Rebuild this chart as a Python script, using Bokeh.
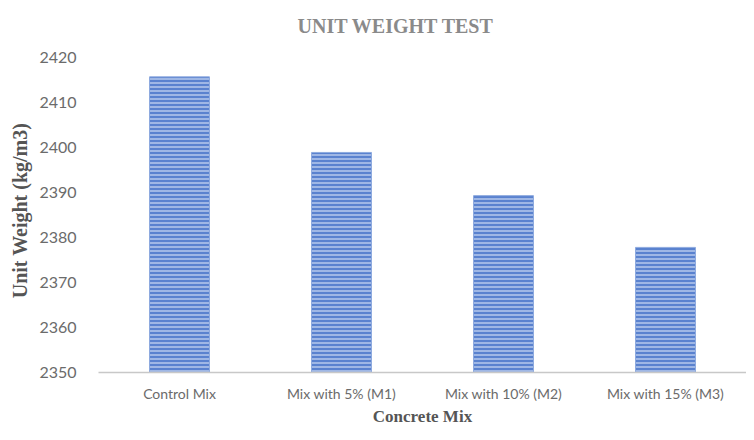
from bokeh.plotting import figure
from bokeh.models import FactorRange, Range1d, ColumnDataSource, Title
from bokeh.embed import file_html
from bokeh.resources import INLINE

categories = ["Control Mix", "Mix with 5% (M1)", "Mix with 10% (M2)", "Mix with 15% (M3)"]
unit_weight = [2415.7, 2398.9, 2389.3, 2377.8]
y_ticks = [2350, 2360, 2370, 2380, 2390, 2400, 2410, 2420]

source = ColumnDataSource(dict(cat=categories, val=unit_weight))

p = figure(
    width=746, height=438,
    x_range=FactorRange(factors=categories, start=0.0, end=3.88, range_padding=0),
    y_range=Range1d(2350, 2422),
    output_backend="svg", toolbar_location=None,
    min_border_left=98, min_border_right=0, min_border_top=48, min_border_bottom=66,
    title=None,
)

p.vbar(x="cat", top="val", bottom=2350, width=0.37, source=source,
       fill_color="#5a82cf", line_color="#8eaadf", line_width=1,
       hatch_pattern="horizontal_line", hatch_color="#b5c9ec",
       hatch_scale=4, hatch_weight=1.5)

t = Title(text="UNIT WEIGHT TEST", align="left", offset=199,
          text_font="Liberation Serif", text_font_size="20px",
          text_font_style="bold", text_color="#8a8a8a", standoff=20,
          vertical_align="top")
p.add_layout(t, "above")

p.outline_line_color = None
p.xgrid.grid_line_color = None
p.ygrid.grid_line_color = None

p.yaxis.ticker = y_ticks
p.yaxis.axis_line_color = None
p.yaxis.major_tick_line_color = None
p.yaxis.minor_tick_line_color = None
p.yaxis.major_label_text_font = "Lato"
p.yaxis.major_label_text_font_size = "16px"
p.yaxis.major_label_text_color = "#6b6b6b"
p.yaxis.major_label_standoff = 16
p.yaxis.axis_label = "Unit Weight (kg/m3)"
p.yaxis.axis_label_text_font = "Liberation Serif"
p.yaxis.axis_label_text_font_size = "20px"
p.yaxis.axis_label_text_font_style = "bold"
p.yaxis.axis_label_text_color = "#555555"
p.yaxis.axis_label_standoff = 5

p.xaxis.axis_line_color = "#c8c8c8"
p.xaxis.axis_line_width = 1.5
p.xaxis.major_tick_line_color = None
p.xaxis.minor_tick_line_color = None
p.xaxis.major_label_text_font = "Lato"
p.xaxis.major_label_text_font_size = "14px"
p.xaxis.major_label_text_color = "#6b6b6b"
p.xaxis.major_label_standoff = 6
p.xaxis.axis_label = "Concrete Mix"
p.xaxis.axis_label_text_font = "Liberation Serif"
p.xaxis.axis_label_text_font_size = "17px"
p.xaxis.axis_label_text_font_style = "bold"
p.xaxis.axis_label_text_color = "#555555"
p.xaxis.axis_label_standoff = 2

open("out.html", "w").write(file_html(p, INLINE))
